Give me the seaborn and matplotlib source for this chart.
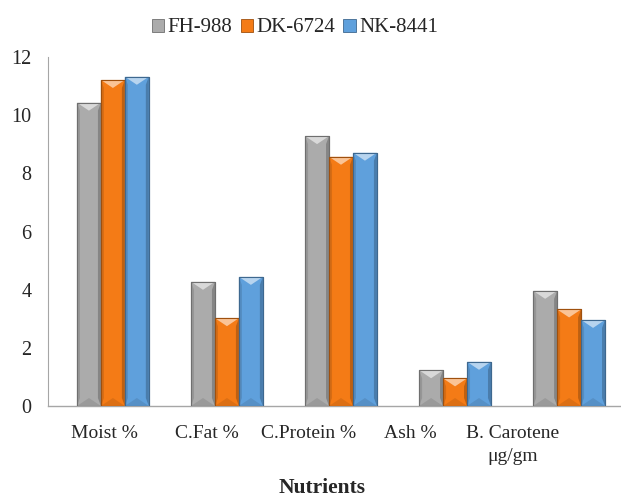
import matplotlib
matplotlib.use("Agg")
import matplotlib.pyplot as plt
import seaborn as sns
import pandas as pd
import numpy as np
from matplotlib.patches import Polygon, Patch
from matplotlib.colors import to_rgb

categories = ["Moist %", "C.Fat %", "C.Protein %", "Ash %", "B. Carotene\nμg/gm"]
varieties = ["FH-988", "DK-6724", "NK-8441"]
fh_988 = [10.43, 4.27, 9.28, 1.23, 3.96]
dk_6724 = [11.21, 3.02, 8.57, 0.95, 3.32]
nk_8441 = [11.32, 4.44, 8.71, 1.52, 2.96]
colors = ["#ABABAB", "#F47B16", "#5FA0DC"]

df = pd.DataFrame({
    "Nutrient": categories * 3,
    "Variety": [v for v in varieties for _ in categories],
    "Value": fh_988 + dk_6724 + nk_8441,
})

sns.set_style("white")
plt.rcParams["font.family"] = ["Liberation Serif", "DejaVu Serif"]

W, H = 621, 498
fig = plt.figure(figsize=(W / 100, H / 100), dpi=100)
ax = fig.add_axes([48 / W, (H - 406) / H, 1 - 48 / W, (406 - 57) / H])

sns.barplot(data=df, x="Nutrient", y="Value", hue="Variety", palette=colors,
            width=0.63, legend=False, ax=ax, saturation=1, linewidth=0)

ax.set_ylim(0, 12)
ax.set_xlim(-0.569, 4.455)
ax.set_yticks(range(0, 13, 2))
ax.tick_params(axis="y", labelsize=14.5, length=0, pad=12)
ax.tick_params(axis="x", labelsize=14, length=0, pad=14)
ax.set_xticks([i * 0.893 - 0.07 for i in range(len(categories))])
ax.set_xticklabels(categories, linespacing=1.45)
ax.set_ylabel("")
ax.set_xlabel("Nutrients", fontsize=15.5, fontweight="bold")
ax.xaxis.set_label_coords(0.478, -0.235)
ax.xaxis.label.set_va("center")

for s in ["top", "right"]:
    ax.spines[s].set_visible(False)
ax.spines["left"].set_color("#A6A6A6")
ax.spines["bottom"].set_color("#A6A6A6")
ax.spines["left"].set_linewidth(0.8)
ax.spines["bottom"].set_linewidth(1.0)

ax_w_px = ax.get_position().width * W
ax_h_px = ax.get_position().height * H
xr = ax.get_xlim()[1] - ax.get_xlim()[0]
yr = ax.get_ylim()[1] - ax.get_ylim()[0]
px_x = xr / ax_w_px
px_y = yr / ax_h_px

def blend(c, t, amt):
    c = np.array(to_rgb(c)); t = np.array(to_rgb(t))
    return tuple(c * (1 - amt) + t * amt)

for container, col in zip(ax.containers, colors):
    for bar in container:
        x0, y0 = bar.get_x(), bar.get_y()
        w, h = bar.get_width(), bar.get_height()
        bar.set_edgecolor(blend(col, "black", 0.35))
        bar.set_linewidth(0.8)
        tri_h = 8 * px_y
        side = 3 * px_x
        ax.add_patch(Polygon([(x0, y0), (x0 + side, y0 + tri_h), (x0 + side, y0 + h - tri_h), (x0, y0 + h)],
                             closed=True, facecolor=blend(col, "black", 0.12), edgecolor="none", zorder=3))
        ax.add_patch(Polygon([(x0 + w, y0), (x0 + w - side, y0 + tri_h), (x0 + w - side, y0 + h - tri_h), (x0 + w, y0 + h)],
                             closed=True, facecolor=blend(col, "black", 0.22), edgecolor="none", zorder=3))
        ax.add_patch(Polygon([(x0, y0 + h), (x0 + w, y0 + h), (x0 + w / 2, y0 + h - tri_h)],
                             closed=True, facecolor=blend(col, "white", 0.55), edgecolor="none", zorder=3))
        ax.add_patch(Polygon([(x0, y0), (x0 + w, y0), (x0 + w / 2, y0 + tri_h)],
                             closed=True, facecolor=blend(col, "black", 0.1), edgecolor="none", zorder=3))
        ax.add_patch(Polygon([(x0, y0), (x0 + w, y0), (x0 + w, y0 + h), (x0, y0 + h)], closed=True,
                             facecolor="none", edgecolor=blend(col, "black", 0.35), linewidth=0.8, zorder=4))

handles = [Patch(facecolor=c, edgecolor=blend(c, "black", 0.35), linewidth=0.6) for c in colors]
fig.legend(handles, varieties, loc="center", bbox_to_anchor=(0.475, 1 - 28 / H), ncol=3,
           frameon=False, fontsize=15, handlelength=0.6, handleheight=0.6,
           handletextpad=0.15, columnspacing=0.4)

fig.savefig("out.png", dpi=100)
